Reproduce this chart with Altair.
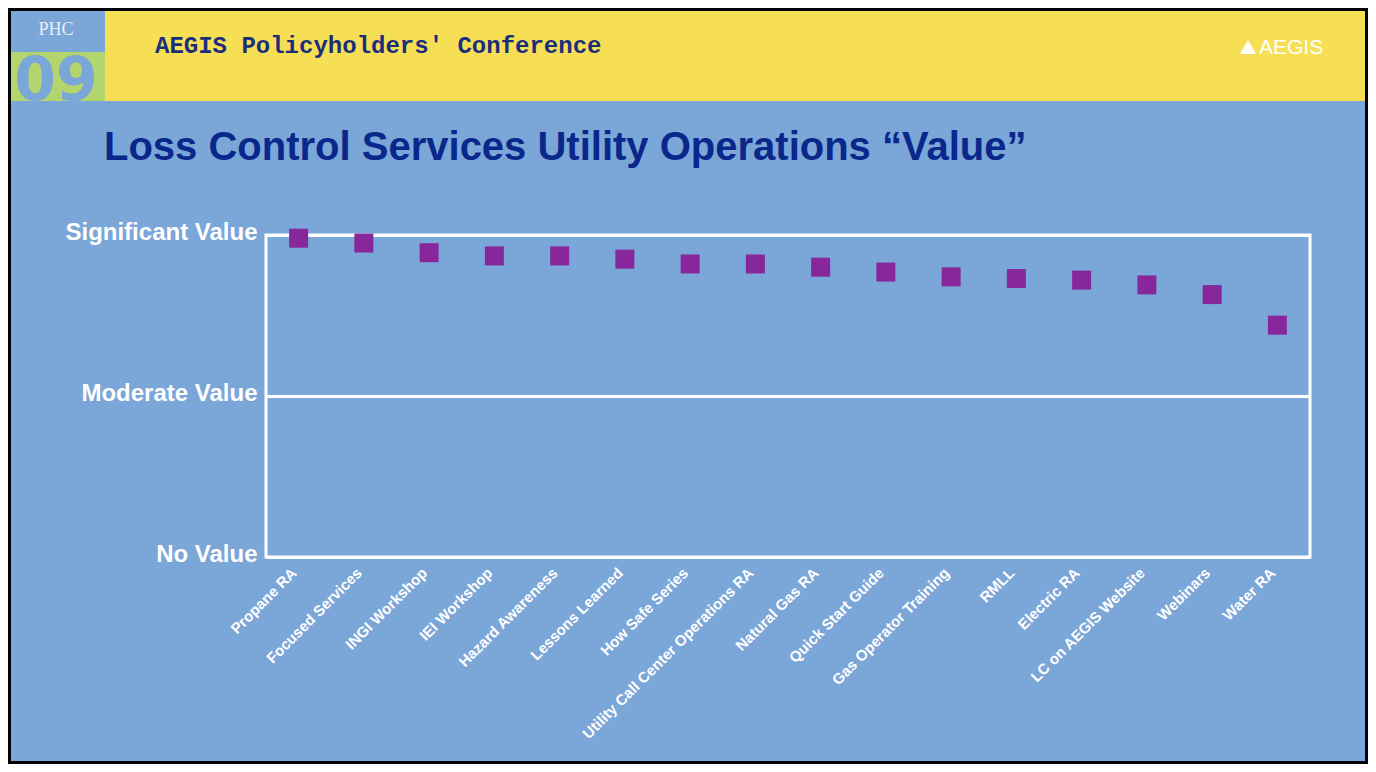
import altair as alt
import pandas as pd

# ---------------- data ----------------
categories = [
    "Propane RA", "Focused Services", "INGI Workshop", "IEI Workshop",
    "Hazard Awareness", "Lessons Learned", "How Safe Series",
    "Utility Call Center Operations RA", "Natural Gas RA", "Quick Start Guide",
    "Gas Operator Training", "RMLL", "Electric RA", "LC on AEGIS Website",
    "Webinars", "Water RA",
]
values = [1.98, 1.95, 1.89, 1.87, 1.87, 1.85, 1.82, 1.82,
          1.80, 1.77, 1.74, 1.73, 1.72, 1.69, 1.63, 1.44]
y_tick_values = [0, 1, 2]
y_tick_labels = ["No Value", "Moderate Value", "Significant Value"]

slide_title = "Loss Control Services Utility Operations \u201cValue\u201d"
header_text = "AEGIS Policyholders' Conference"
badge_top = "PHC"
badge_year = "09"
logo_text = "AEGIS"

# ---------------- layout / style ----------------
BG = "#7BA6D8"
YELLOW = "#F7DF55"
GREEN = "#B4D46E"
PURPLE = "#88279B"
TITLE_BLUE = "#0A288C"
HEADER_BLUE = "#1B2E7C"
FONT = "Liberation Sans"

W, H = 1360, 756          # whole chart (page minus 8px margin)
PL, PT = 258, 227         # plot-area origin inside the chart
PW, PH = 1044, 322        # plot-area size
PR, PB = W - PL - PW, H - PT - PH


def X(px):  # page x -> plot coords
    return px - 8 - PL


def Y(py):  # page y -> plot coords
    return py - 8 - PT


one = alt.Data(values=[{"k": 1}])

df = pd.DataFrame({"item": categories, "score": values})

label_expr = " : ".join(
    f"datum.value == {v} ? '{l}'" for v, l in zip(y_tick_values, y_tick_labels)
) + " : ''"

points = alt.Chart(df).mark_square(size=361, color=PURPLE, opacity=1).encode(
    x=alt.X(
        "item:N",
        sort=categories,
        scale=alt.Scale(type="point", padding=0.5),
        axis=alt.Axis(
            title=None, labelAngle=-45, labelAlign="right", labelBaseline="middle",
            labelFont=FONT, labelFontSize=15, labelFontWeight="bold",
            labelColor="white", ticks=False, domain=False, grid=False,
            labelPadding=13, labelOffset=-5, labelOverlap=False, labelLimit=400,
        ),
    ),
    y=alt.Y(
        "score:Q",
        scale=alt.Scale(domain=[0, 2], nice=False, zero=True),
        axis=alt.Axis(
            title=None, values=y_tick_values, labelExpr=label_expr,
            grid=True, gridColor="white", gridWidth=3, gridOpacity=1,
            ticks=False, domain=False, labelFont=FONT, labelFontSize=24,
            labelFontWeight="bold", labelColor="white", labelPadding=9,
            labelBaseline="middle", labelOffset=-3, labelLimit=400,
        ),
    ),
    tooltip=["item", "score"],
)

# ---------------- slide decorations ----------------
band = alt.Chart(one).mark_rect(color=YELLOW).encode(
    x=alt.value(X(105)), x2=alt.value(X(8 + W)),
    y=alt.value(Y(8)), y2=alt.value(Y(101)),
)
green = alt.Chart(one).mark_rect(color=GREEN).encode(
    x=alt.value(X(8)), x2=alt.value(X(105)),
    y=alt.value(Y(52)), y2=alt.value(Y(101)),
)
year = alt.Chart(one).mark_text(
    text=badge_year, font="DejaVu Sans", fontSize=60, fontWeight="bold",
    color=BG, align="center", baseline="alphabetic",
).encode(x=alt.value(X(56)), y=alt.value(Y(100)))
phc = alt.Chart(one).mark_text(
    text=badge_top, font="Liberation Serif", fontSize=18,
    color="#E8EEF7", align="center", baseline="alphabetic",
).encode(x=alt.value(X(56)), y=alt.value(Y(35)))
header = alt.Chart(one).mark_text(
    text=header_text, font="Liberation Mono", fontSize=24, fontWeight="bold",
    color=HEADER_BLUE, align="left", baseline="alphabetic",
).encode(x=alt.value(X(155)), y=alt.value(Y(53)))
logo_icon = alt.Chart(one).mark_point(
    shape="triangle-up", size=260, filled=True, color="white", opacity=1,
).encode(x=alt.value(X(1248)), y=alt.value(Y(47)))
logo = alt.Chart(one).mark_text(
    text=logo_text, font=FONT, fontSize=21, color="white",
    align="left", baseline="alphabetic",
).encode(x=alt.value(X(1259)), y=alt.value(Y(54)))
title = alt.Chart(one).mark_text(
    text=slide_title, font=FONT, fontSize=40, fontWeight="bold",
    color=TITLE_BLUE, align="left", baseline="alphabetic",
).encode(x=alt.value(X(104)), y=alt.value(Y(160)))
border = alt.Chart(one).mark_rect(
    fill=None, fillOpacity=0, stroke="#000000", strokeWidth=3,
).encode(
    x=alt.value(X(9.5)), x2=alt.value(X(8 + W - 1.5)),
    y=alt.value(Y(9.5)), y2=alt.value(Y(8 + H - 1.5)),
)

chart = alt.layer(
    band, green, year, phc, header, logo_icon, logo, title, points, border
).properties(
    width=PW,
    height=PH,
    autosize=alt.AutoSizeParams(type="none"),
    padding={"left": PL, "top": PT, "right": PR, "bottom": PB},
).configure(
    background=BG,
).configure_view(
    stroke="white", strokeWidth=3, fill=None,
)

chart.save("out.html", embed_options={"renderer": "svg", "actions": False})
